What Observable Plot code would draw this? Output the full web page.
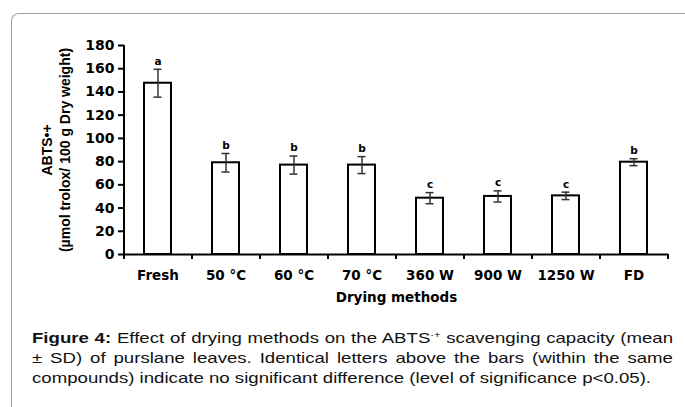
<!DOCTYPE html>
<html><head><meta charset="utf-8">
<script src="https://cdn.jsdelivr.net/npm/d3@7"></script>
<script src="https://cdn.jsdelivr.net/npm/@observablehq/plot@0.6"></script>
<style>
body{margin:0;background:#fff;width:685px;height:407px;overflow:hidden;position:relative;font-family:"Liberation Sans",Arial,sans-serif;}
#frame{position:absolute;left:11px;top:13px;width:690px;height:420px;border-top:1.5px solid #a0a0a0;border-left:1.5px solid #a0a0a0;border-top-left-radius:8px;}
#chart{position:absolute;left:0;top:0;}
#caption{position:absolute;left:32px;top:328px;font-size:15px;line-height:20px;color:#111;transform-origin:0 0;}
#caption .j{text-align:justify;text-align-last:justify;white-space:nowrap;}
#caption sup{font-size:9px;line-height:0;vertical-align:5px;}
#last{display:inline-block;white-space:nowrap;}
</style></head><body>
<div id="frame"></div>
<div id="chart"></div>
<div id="caption">
<div class="j"><b>Figure 4:</b> Effect of drying methods on the ABTS<sup>·+</sup> scavenging capacity (mean</div>
<div class="j">± SD) of purslane leaves. Identical letters above the bars (within the same</div>
<div><span id="last">compounds) indicate no significant difference (level of significance p&lt;0.05).</span></div>
</div>
<script>
const methods = ["Fresh", "50 °C", "60 °C", "70 °C", "360 W", "900 W", "1250 W", "FD"];
const means = [147.5, 79, 77, 77, 48.5, 50, 50.5, 79.5];
const sds = [12, 8, 7.8, 7.3, 4.8, 4.8, 3.2, 3];
const letters = ["a", "b", "b", "b", "c", "c", "c", "b"];
const yTicks = [0, 20, 40, 60, 80, 100, 120, 140, 160, 180];
const xLabel = "Drying methods";
const yLabel = "ABTS•+\n(µmol trolox/ 100 g Dry weight)";

const data = methods.map((m, i) => ({method: m, mean: means[i], sd: sds[i], letter: letters[i]}));

const plot = Plot.plot({
  width: 685, height: 318,
  marginLeft: 124, marginRight: 17, marginTop: 45, marginBottom: 64,
  style: {fontFamily: "DejaVu Sans", fontWeight: "bold", fontSize: "13.5px", color: "#000", background: "transparent", overflow: "visible"},
  x: {domain: methods, paddingInner: 0.6, paddingOuter: 0.3, label: null},
  y: {domain: [0, 180], label: null},
  marks: [
    Plot.barY(data, {x: "method", y: "mean", fill: "white", stroke: "black", strokeWidth: 2}),
    Plot.ruleX(data, {x: "method", y1: d => d.mean - d.sd, y2: d => d.mean + d.sd, stroke: "#333", strokeWidth: 1.5}),
    Plot.tickY(data, {x: "method", y: d => d.mean + d.sd, insetLeft: 9.5, insetRight: 9.5, stroke: "#333", strokeWidth: 1.5}),
    Plot.tickY(data, {x: "method", y: d => d.mean - d.sd, insetLeft: 9.5, insetRight: 9.5, stroke: "#333", strokeWidth: 1.5}),
    Plot.text(data, {x: "method", y: d => d.mean + d.sd, text: "letter", dy: -8, fontSize: 10.5, fontWeight: "bold"}),
    Plot.ruleY([0], {stroke: "black", strokeWidth: 2}),
    Plot.axisY({ticks: yTicks, tickSize: 6, tickPadding: 4, fontSize: 14, label: null, strokeWidth: 2}),
    Plot.axisX({tickSize: 0, tickPadding: 16, fontSize: 13.5, label: null}),
    Plot.text([xLabel], {frameAnchor: "bottom", dy: 47, text: d => d, fontSize: 13.5, fontWeight: "bold", textAnchor: "middle"}),
    Plot.text([yLabel], {frameAnchor: "left", rotate: -90, dx: -69, text: d => d, fontFamily: "Liberation Sans", fontSize: 14, fontWeight: "bold", textAnchor: "middle", lineAnchor: "middle", lineHeight: 1.25})
  ]
});
document.getElementById("chart").append(plot);

// y axis line and category boundary ticks from the scales
const sx = plot.scale("x"), sy = plot.scale("y");
const svg = d3.select(plot);
svg.append("line")
  .attr("x1", sx.range[0]).attr("x2", sx.range[0])
  .attr("y1", sy.apply(0) + 1).attr("y2", sy.apply(180))
  .attr("stroke", "black").attr("stroke-width", 2);
const y0 = sy.apply(0);
svg.append("g").selectAll("line").data(d3.range(methods.length + 1)).join("line")
  .attr("x1", i => sx.range[0] + i * sx.step).attr("x2", i => sx.range[0] + i * sx.step)
  .attr("y1", y0).attr("y2", y0 + 5)
  .attr("stroke", "black").attr("stroke-width", 2);

// caption: horizontally stretched like the reference
const cap = document.getElementById("caption");
const last = document.getElementById("last");
const natural = last.getBoundingClientRect().width;
const s = 619 / natural;
cap.style.width = (641 / s) + "px";
cap.style.transform = `scaleX(${s})`;
</script>
</body></html>
